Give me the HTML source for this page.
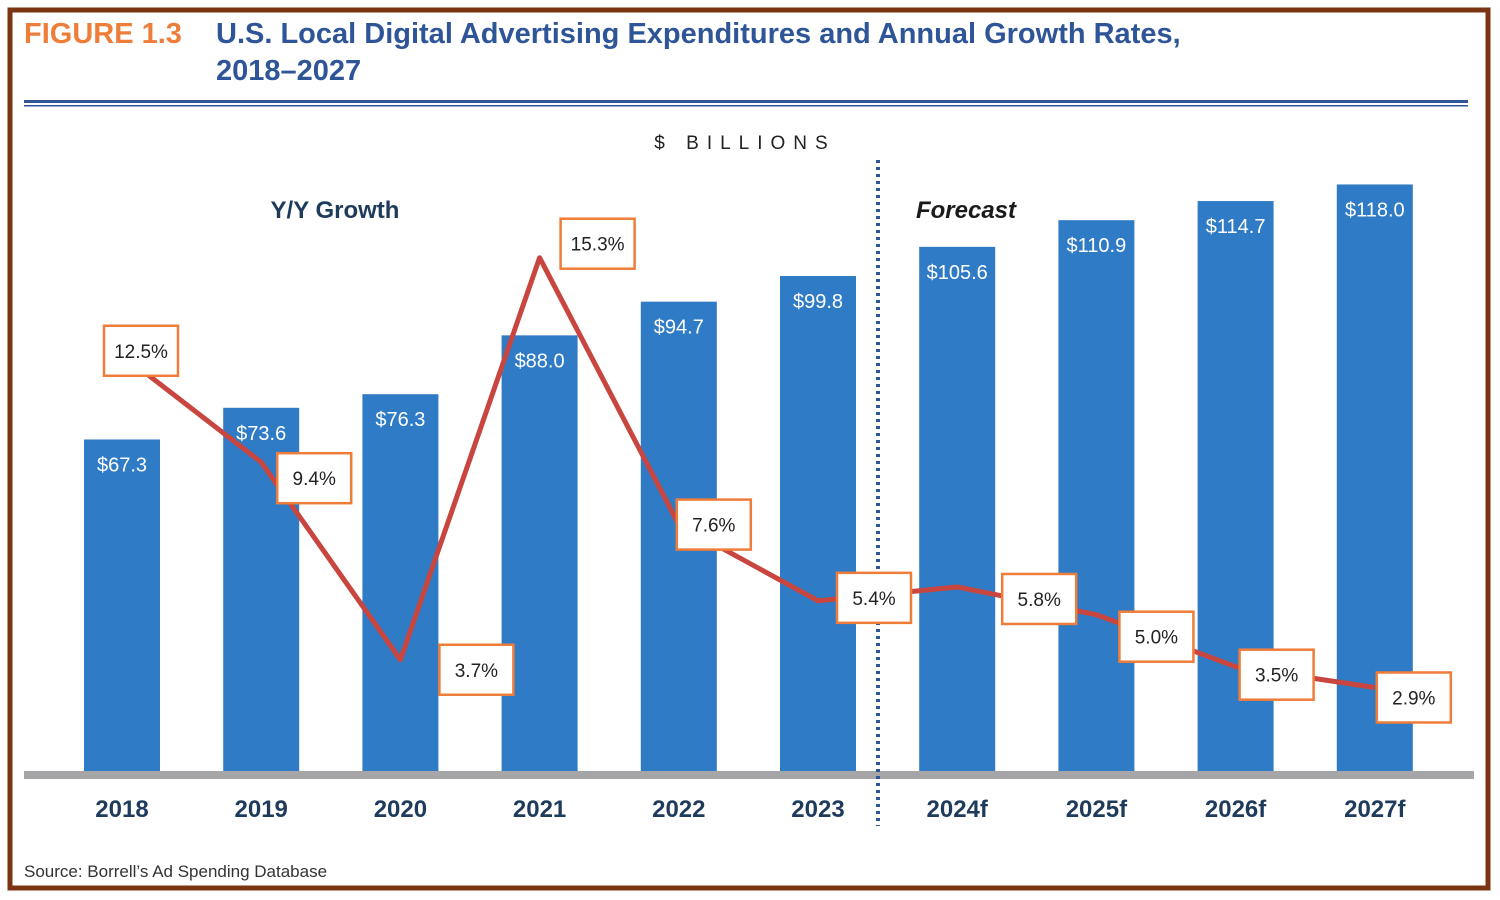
<!DOCTYPE html>
<html><head><meta charset="utf-8">
<style>
body{margin:0;background:#fff;}
#wrap{position:relative;width:1500px;height:900px;overflow:hidden;font-family:"Liberation Sans",sans-serif;}
</style></head>
<body>
<div id="wrap">
<svg id="chart" width="1500" height="900" xmlns="http://www.w3.org/2000/svg">
  <rect x="10" y="10" width="1478" height="878" fill="#fff" stroke="#7a3412" stroke-width="5"/>
  <text x="24" y="43" font-size="29" font-weight="bold" fill="#ef7d3a">FIGURE 1.3</text>
  <text x="216" y="43" font-size="29" font-weight="bold" fill="#2e5597">U.S. Local Digital Advertising Expenditures and Annual Growth Rates,</text>
  <text x="216" y="80" font-size="29" font-weight="bold" fill="#2e5597">2018–2027</text>
  <rect x="24" y="100" width="1444" height="3" fill="#2e5597"/>
  <rect x="24" y="105" width="1444" height="1.5" fill="#2e5597"/>
  <text x="745" y="149" font-size="19" fill="#222" text-anchor="middle" letter-spacing="8">$ BILLIONS</text>
  <text x="335" y="218" font-size="24" font-weight="bold" fill="#1f3b5c" text-anchor="middle">Y/Y Growth</text>
  <text x="966" y="218" font-size="24" font-weight="bold" font-style="italic" fill="#1a1a1a" text-anchor="middle">Forecast</text>
  <g id="bars"></g>
  <rect x="24" y="771" width="1450" height="8" fill="#a6a6a8"/>
  <line x1="878" y1="160" x2="878" y2="826" stroke="#2e5597" stroke-width="4" stroke-dasharray="3,4"/>
  <g id="line"></g>
  <g id="xlabels"></g>
  <text x="24" y="877" font-size="17" fill="#333">Source: Borrell’s Ad Spending Database</text>
</svg>
</div>
<script>
const categories = ["2018","2019","2020","2021","2022","2023","2024f","2025f","2026f","2027f"];
const spend = [67.3,73.6,76.3,88.0,94.7,99.8,105.6,110.9,114.7,118.0];
const spendLabels = ["$67.3","$73.6","$76.3","$88.0","$94.7","$99.8","$105.6","$110.9","$114.7","$118.0"];
const growth = [12.5,9.4,3.7,15.3,7.6,5.4,5.8,5.0,3.5,2.9];
const growthLabels = ["12.5%","9.4%","3.7%","15.3%","7.6%","5.4%","5.8%","5.0%","3.5%","2.9%"];

const NS="http://www.w3.org/2000/svg";
const xC = i => 122 + i*139.2;
const yBar = v => 778 - v*5.03;
const yLine = v => 788 - v*34.66;
const boxDx=[19,53,76,58,35,56,82,60,41,39];
const boxDy=[-4,16,10,-14,0,-3,12,22,8,10];
function mk(tag,attrs,parent){const e=document.createElementNS(NS,tag);for(const k in attrs)e.setAttribute(k,attrs[k]);parent.appendChild(e);return e;}
const bars=document.getElementById('bars'), line=document.getElementById('line'), xl=document.getElementById('xlabels');
categories.forEach((c,i)=>{
  const top=yBar(spend[i]);
  const r=mk('rect',{x:xC(i)-38,y:top,width:76,height:775-top,fill:'#2f7bc6'},bars);
  
  
  const t=mk('text',{x:xC(i),y:top+32,'font-size':20,fill:'#fff','text-anchor':'middle'},bars);
  t.textContent=spendLabels[i];
  
  
  const x=mk('text',{x:xC(i),y:817,'font-size':24,'font-weight':'bold',fill:'#1f3b5c','text-anchor':'middle'},xl);
  x.textContent=c;
  
  
});
const pts=growth.map((g,i)=>xC(i)+','+yLine(g)).join(' ');
const pl=mk('polyline',{points:pts,fill:'none',stroke:'#c8463f','stroke-width':5,'stroke-linejoin':'round'},line);


growth.forEach((g,i)=>{
  const cx=xC(i)+boxDx[i], cy=yLine(g)+boxDy[i];
  const b=mk('rect',{x:cx-37,y:cy-25,width:74,height:50,fill:'#fff',stroke:'#ef7d3a','stroke-width':2.5},line);
  
  
  const t=mk('text',{x:cx,y:cy+7,'font-size':19,fill:'#222','text-anchor':'middle'},line);
  t.textContent=growthLabels[i];
  
  
});
</script>
</body></html>
